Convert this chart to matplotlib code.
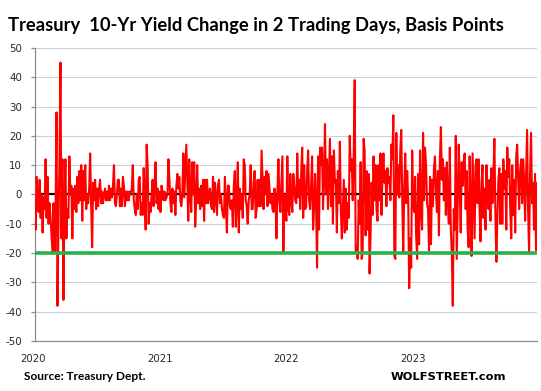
import matplotlib
matplotlib.use("Agg")
import matplotlib.pyplot as plt
import matplotlib.transforms as mtransforms
import numpy as np

# ---- data: 2-trading-day change in 10-yr Treasury yield (basis points)
chg_2020 = [-2, -12, 6, -3, -6, 5, -8, 0, -13, -1,
            -5, 12, -8, 6, -10, -3, -8, -14, -20, -3,
            -20, -8, 28, -38, -10, 12, 45, -15, 12, -36,
            -5, 12, -15, -5, -8, 13, 0, 3, -15, 2,
            -5, 3, -6, 6, -3, 8, -2, 10, -9, 8,
            -2, 10, -5, 0, -3, 2, 14, -4, -18, 4,
            -2, 5, -5, 2, -4, 2, 5, -3, 1, -3,
            0, 2, -2, 1, -2, 3, -2, 2, -1, 3,
            10, -3, -4, 0, 5, 5, -4, 2, -4, 6,
            3, -4, 1, -2, 1, -2, 1, 0, 2, 10,
            -2]
chg_2021 = [-5, -7, 0, -5, 5, 6, -7, -3, -7, 9,
            0, -12, 17, 10, -10, -3, -6, 0, 5, -4,
            3, 11, -3, 2, -5, 1, -6, 3, 1, -2,
            1, -2, -1, 0, 12, 5, -3, -6, 2, -3,
            1, -7, 3, 7, 2, 6, -2, -4, 0, 14,
            -1, 8, 17, 5, -9, 12, 0, -6, 11, 0,
            11, -11, -2, 10, -3, 2, -5, 3, -4, 5,
            -9, 5, -3, 5, -3, 0, 2, -4, -5, 6,
            -6, 4, -1, -7, 3, 5, -3, 0, -5, -7,
            -8, 6, -5, -13, 3, 3, -4, -5, -2, -11,
            3, 8, -11, -3, 11, -13]
chg_2022a = [2, -5, 0, -8, 12, 10, -2, -4, -10, -2,
             0, 10, -5, -5, 4, 8, -8, -5, 5, -4,
             5, -4, 15, 5, -5, 6, 0, 8, -4, 7,
             2, -3, 0, -5, -6, 2, -1, -15, 1, 12,
             -2, -6, 3, 13, -20, 0, -3, -9, 13, -5,
             -7, 7, -2, -6, 7, 3, -2, -3, 14, -1,
             5, -5, 7, 16, -8, 10, -5, -4, 8, 15,
             -2, -5, 3, 13, -12, -5, 7, -3, -25, 13,
             -12, 16, 10, 16, -5, 5, 24, 0, 12, -5,
             7, 19, -4, 13, -10, 15, 4, 5, -13, 8,
             -3, 18, -5]
chg_2022b = [-15, -5, 5, -13, 2, -12, -3, -8, 20, 8,
             12, -2, 14, 39, -20, -18, -22, -2, -10, 11,
             -22, -20, 19, 15, -14, 8, -12, 7, -27, -14,
             4, -7, 13, -2, 10, -5, -9, 10, -2, 14,
             -7, 6, 14, 4, 8, -4, 9, 4, 6, -2,
             17, 12, 27, -21, -22, 21, 0, 10, -1, 15,
             22, -2, -20, 2, 14, -3, 8, -2, -32, -15,
             -25, 15, -3, -6, 6, -14, -22, 7, -17, 15,
             -5, -12, 21, -2, 16, 10, -3, -5, -19, 6,
             -17, 5, -4, 9, 13, 1, -6, 8, -14, 12,
             23, 5, 12, -2, 9]
chg_2023 = [-7, 11, -2, -10, 16, -12, -20, -38, -5, -12,
            20, -22, -2, 17, 3, -13, 11, 3, 11, 14,
            -5, 8, -12, -18, 13, -3, -21, 14, 0, -15,
            10, 12, -3, 12, -5, -16, 4, 10, -8, 2,
            -12, 10, -2, -5, 5, -9, 9, -3, 7, 19,
            -7, -23, -8, 5, 9, -10, 7, -10, 12, 2,
            8, -12, 16, 6, 12, -5, -15, 10, -7, 5,
            -13, 13, 17, 5, -5, 8, 12, -3, 12, 5,
            -9, 6, 22, -5, -20, 7, 21, -3, 4, -12,
            7, -19, 4]

year_labels = ["2020", "2021", "2022", "2023"]
threshold = -20
y_ticks = list(range(-50, 51, 10))

values = np.array(chg_2020 + chg_2021 + chg_2022a + chg_2022b + chg_2023, dtype=float)
idx = np.arange(len(values))

# ---- figure
W, H, DPI = 541, 391, 100
fig = plt.figure(figsize=(W / DPI, H / DPI), dpi=DPI)
fig.patch.set_facecolor("white")

ax_left, ax_right, ax_top, ax_bottom = 34.7, 537.0, 47.9, 341.0
ax = fig.add_axes([ax_left / W, 1 - ax_bottom / H,
                   (ax_right - ax_left) / W, (ax_bottom - ax_top) / H])

ax.set_xlim(0, len(values) - 1)
ax.set_ylim(-50, 50)
ax.set_yticks(y_ticks)
ax.set_yticklabels([str(v) for v in y_ticks])
ax.set_xticks([])

ax.grid(axis="y", color="#CDD1D9", lw=0.8, zorder=0)
ax.set_axisbelow(True)
for s in ("top", "right"):
    ax.spines[s].set_visible(False)
for s in ("left", "bottom"):
    ax.spines[s].set_color("#8C8C8C")
    ax.spines[s].set_linewidth(0.9)
ax.tick_params(axis="y", length=3.2, width=0.9, color="#8C8C8C", pad=6,
               labelsize=7.4, labelcolor="#262626")
for lab in ax.get_yticklabels():
    lab.set_fontfamily("DejaVu Sans")

ax.axhline(0, color="black", lw=1.6, zorder=2)
ax.plot(idx, values, color="#FF0000", lw=1.5, zorder=3,
        solid_joinstyle="round", solid_capstyle="round")
ax.axhline(threshold, color="#27B14A", lw=2.6, zorder=4)

# year labels along the bottom (pixel positions of the reference labels)
year_px = [33, 160, 286, 413]
n = len(values) - 1
blend = mtransforms.blended_transform_factory(ax.transData, fig.transFigure)
for lab, px in zip(year_labels, year_px):
    xval = (px - ax_left) / (ax_right - ax_left) * n
    ax.text(xval, 1 - 358.5 / H, lab, transform=blend,
            ha="center", va="center", fontsize=7.3, family="DejaVu Sans",
            color="#262626", clip_on=False)

# texts
title = fig.text(8 / W, 1 - 31 / H, "Treasury  10-Yr Yield Change in 2 Trading Days, Basis Points",
                 ha="left", va="baseline", fontsize=13, fontweight="bold", family="Lato", color="black")
source = fig.text(24 / W, 1 - 380 / H, "Source: Treasury Dept.", ha="left", va="baseline",
                  fontsize=9, fontweight="bold", family="Lato", color="black")
brand = fig.text(391 / W, 1 - 380 / H, "WOLFSTREET.com", ha="left", va="baseline",
                 fontsize=9, fontweight="bold", family="DejaVu Sans", color="black")

fig.canvas.draw()
r = fig.canvas.get_renderer()
for t, target in ((title, 494), (source, 122), (brand, 115)):
    w = t.get_window_extent(r).width
    t.set_fontsize(t.get_fontsize() * target / w)

fig.savefig("out.png", dpi=DPI, facecolor="white")
